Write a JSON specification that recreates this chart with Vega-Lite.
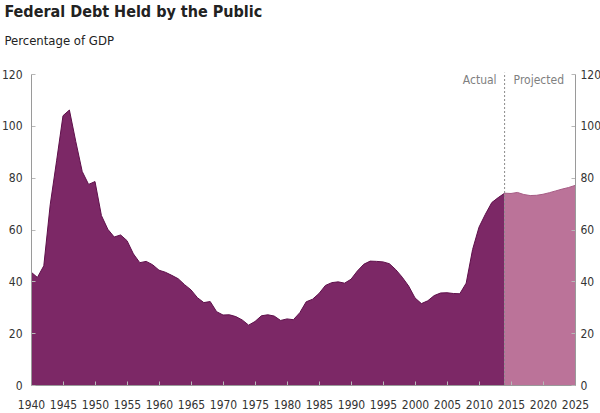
{
  "$schema": "https://vega.github.io/schema/vega-lite/v6.json",
  "width": 544,
  "height": 311,
  "padding": {"left": 1, "top": 4, "right": 0, "bottom": 0},
  "background": "white",
  "title": {
    "text": "Federal Debt Held by the Public",
    "subtitle": "Percentage of GDP",
    "anchor": "start",
    "frame": "bounds",
    "dx": 3,
    "font": "DejaVu Sans Condensed, sans-serif",
    "fontSize": 16,
    "fontWeight": "bold",
    "color": "#222222",
    "subtitleFont": "DejaVu Sans Condensed, sans-serif",
    "subtitleFontSize": 13,
    "subtitleColor": "#222222",
    "subtitlePadding": 15,
    "offset": 20
  },
  "config": {
    "view": {"stroke": null},
    "axis": {
      "labelFont": "DejaVu Sans Condensed, sans-serif",
      "labelFontSize": 12,
      "labelColor": "#333333",
      "domainColor": "#9a9a9a",
      "tickColor": "#b8b8b8",
      "grid": false,
      "title": null
    }
  },
  "data": {
    "values": [
      {"year": 1940, "value": 43.6, "period": "Actual"},
      {"year": 1941, "value": 41.5, "period": "Actual"},
      {"year": 1942, "value": 46.0, "period": "Actual"},
      {"year": 1943, "value": 69.5, "period": "Actual"},
      {"year": 1944, "value": 86.5, "period": "Actual"},
      {"year": 1945, "value": 103.9, "period": "Actual"},
      {"year": 1946, "value": 106.1, "period": "Actual"},
      {"year": 1947, "value": 93.9, "period": "Actual"},
      {"year": 1948, "value": 82.4, "period": "Actual"},
      {"year": 1949, "value": 77.4, "period": "Actual"},
      {"year": 1950, "value": 78.5, "period": "Actual"},
      {"year": 1951, "value": 65.4, "period": "Actual"},
      {"year": 1952, "value": 60.1, "period": "Actual"},
      {"year": 1953, "value": 57.1, "period": "Actual"},
      {"year": 1954, "value": 57.9, "period": "Actual"},
      {"year": 1955, "value": 55.7, "period": "Actual"},
      {"year": 1956, "value": 50.6, "period": "Actual"},
      {"year": 1957, "value": 47.2, "period": "Actual"},
      {"year": 1958, "value": 47.7, "period": "Actual"},
      {"year": 1959, "value": 46.4, "period": "Actual"},
      {"year": 1960, "value": 44.3, "period": "Actual"},
      {"year": 1961, "value": 43.5, "period": "Actual"},
      {"year": 1962, "value": 42.3, "period": "Actual"},
      {"year": 1963, "value": 41.0, "period": "Actual"},
      {"year": 1964, "value": 38.7, "period": "Actual"},
      {"year": 1965, "value": 36.7, "period": "Actual"},
      {"year": 1966, "value": 33.7, "period": "Actual"},
      {"year": 1967, "value": 31.8, "period": "Actual"},
      {"year": 1968, "value": 32.2, "period": "Actual"},
      {"year": 1969, "value": 28.3, "period": "Actual"},
      {"year": 1970, "value": 27.0, "period": "Actual"},
      {"year": 1971, "value": 27.1, "period": "Actual"},
      {"year": 1972, "value": 26.4, "period": "Actual"},
      {"year": 1973, "value": 25.1, "period": "Actual"},
      {"year": 1974, "value": 23.1, "period": "Actual"},
      {"year": 1975, "value": 24.5, "period": "Actual"},
      {"year": 1976, "value": 26.7, "period": "Actual"},
      {"year": 1977, "value": 27.1, "period": "Actual"},
      {"year": 1978, "value": 26.6, "period": "Actual"},
      {"year": 1979, "value": 24.9, "period": "Actual"},
      {"year": 1980, "value": 25.5, "period": "Actual"},
      {"year": 1981, "value": 25.2, "period": "Actual"},
      {"year": 1982, "value": 27.9, "period": "Actual"},
      {"year": 1983, "value": 32.1, "period": "Actual"},
      {"year": 1984, "value": 33.1, "period": "Actual"},
      {"year": 1985, "value": 35.3, "period": "Actual"},
      {"year": 1986, "value": 38.4, "period": "Actual"},
      {"year": 1987, "value": 39.5, "period": "Actual"},
      {"year": 1988, "value": 39.8, "period": "Actual"},
      {"year": 1989, "value": 39.3, "period": "Actual"},
      {"year": 1990, "value": 40.8, "period": "Actual"},
      {"year": 1991, "value": 44.0, "period": "Actual"},
      {"year": 1992, "value": 46.6, "period": "Actual"},
      {"year": 1993, "value": 47.8, "period": "Actual"},
      {"year": 1994, "value": 47.7, "period": "Actual"},
      {"year": 1995, "value": 47.5, "period": "Actual"},
      {"year": 1996, "value": 46.8, "period": "Actual"},
      {"year": 1997, "value": 44.5, "period": "Actual"},
      {"year": 1998, "value": 41.6, "period": "Actual"},
      {"year": 1999, "value": 38.2, "period": "Actual"},
      {"year": 2000, "value": 33.6, "period": "Actual"},
      {"year": 2001, "value": 31.4, "period": "Actual"},
      {"year": 2002, "value": 32.5, "period": "Actual"},
      {"year": 2003, "value": 34.5, "period": "Actual"},
      {"year": 2004, "value": 35.5, "period": "Actual"},
      {"year": 2005, "value": 35.6, "period": "Actual"},
      {"year": 2006, "value": 35.3, "period": "Actual"},
      {"year": 2007, "value": 35.2, "period": "Actual"},
      {"year": 2008, "value": 39.3, "period": "Actual"},
      {"year": 2009, "value": 52.3, "period": "Actual"},
      {"year": 2010, "value": 60.9, "period": "Actual"},
      {"year": 2011, "value": 65.9, "period": "Actual"},
      {"year": 2012, "value": 70.4, "period": "Actual"},
      {"year": 2013, "value": 72.3, "period": "Actual"},
      {"year": 2014, "value": 74.0, "period": "Actual"},
      {"year": 2014, "value": 74.0, "period": "Projected"},
      {"year": 2015, "value": 73.9, "period": "Projected"},
      {"year": 2016, "value": 74.3, "period": "Projected"},
      {"year": 2017, "value": 73.5, "period": "Projected"},
      {"year": 2018, "value": 73.1, "period": "Projected"},
      {"year": 2019, "value": 73.2, "period": "Projected"},
      {"year": 2020, "value": 73.6, "period": "Projected"},
      {"year": 2021, "value": 74.2, "period": "Projected"},
      {"year": 2022, "value": 74.9, "period": "Projected"},
      {"year": 2023, "value": 75.6, "period": "Projected"},
      {"year": 2024, "value": 76.2, "period": "Projected"},
      {"year": 2025, "value": 77.0, "period": "Projected"}
    ]
  },
  "encoding": {
    "x": {
      "field": "year",
      "type": "quantitative",
      "scale": {"domain": [1940, 2025], "nice": false, "zero": false},
      "axis": {
        "values": [1940, 1945, 1950, 1955, 1960, 1965, 1970, 1975, 1980, 1985, 1990, 1995, 2000, 2005, 2010, 2015, 2020, 2025],
        "format": "d",
        "tickSize": -4,
        "labelPadding": 18,
        "labelFlush": false,
        "labelOverlap": false,
        "zindex": 1
      }
    }
  },
  "layer": [
    {
      "transform": [{"filter": "datum.period === 'Actual'"}],
      "mark": {"type": "area", "color": "#7c2866", "opacity": 1, "line": {"color": "#5e0f4a", "strokeWidth": 1}},
      "encoding": {
        "y": {
          "field": "value",
          "type": "quantitative",
          "scale": {"domain": [0, 120], "nice": false},
          "axis": {"orient": "left", "values": [0, 20, 40, 60, 80, 100, 120], "tickSize": -4, "labelPadding": 13, "zindex": 1}
        }
      }
    },
    {
      "transform": [{"filter": "datum.period === 'Projected'"}],
      "mark": {"type": "area", "color": "#bb7399", "opacity": 1, "line": {"color": "#a65c85", "strokeWidth": 1}},
      "encoding": {
        "y": {
          "field": "value",
          "type": "quantitative",
          "scale": {"domain": [0, 120], "nice": false},
          "axis": {"orient": "right", "values": [0, 20, 40, 60, 80, 100, 120], "tickSize": -4, "labelPadding": 9, "zindex": 1}
        }
      }
    },
    {
      "data": {"values": [{"year": 2014}]},
      "mark": {"type": "rule", "color": "#8a8a8a", "strokeDash": [2, 2], "strokeWidth": 1},
      "encoding": {"x": {"field": "year", "type": "quantitative"}, "y": {"datum": 0, "axis": null}, "y2": {"datum": 120.5}}
    },
    {
      "data": {"values": [{"year": 2014, "label": "Actual"}]},
      "mark": {"type": "text", "align": "right", "baseline": "middle", "dx": -8, "font": "DejaVu Sans Condensed, sans-serif", "fontSize": 12, "color": "#808080"},
      "encoding": {"x": {"field": "year", "type": "quantitative"}, "y": {"datum": 117.6, "axis": null}, "text": {"field": "label"}}
    },
    {
      "data": {"values": [{"year": 2014, "label": "Projected"}]},
      "mark": {"type": "text", "align": "left", "baseline": "middle", "dx": 9, "font": "DejaVu Sans Condensed, sans-serif", "fontSize": 12, "color": "#808080"},
      "encoding": {"x": {"field": "year", "type": "quantitative"}, "y": {"datum": 117.6, "axis": null}, "text": {"field": "label"}}
    }
  ],
  "resolve": {"axis": {"y": "independent"}}
}
